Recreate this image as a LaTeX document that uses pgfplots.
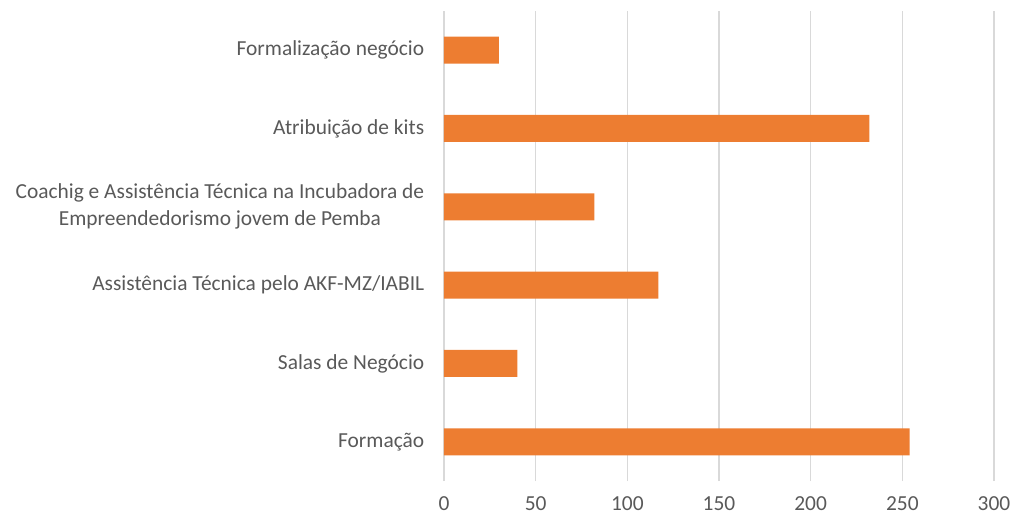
\documentclass[border=0pt]{standalone}
\usepackage{fontspec}
\setmainfont{Carlito}
\usepackage{pgfplots}
\pgfplotsset{compat=1.18}
\definecolor{barorange}{HTML}{ED7D31}
\definecolor{gridgray}{HTML}{D9D9D9}
\definecolor{textgray}{HTML}{595959}

\begin{document}
\begin{tikzpicture}[x=1bp,y=1bp]
\path[use as bounding box] (-444bp,-37bp) rectangle (571bp,481bp);
\begin{axis}[
    at={(0,0)}, anchor=south west,
    scale only axis,
    width=550bp, height=470bp,
    xbar, bar width=27bp,
    xmin=0, xmax=300,
    xtick={0,50,...,300},
    ymin=-0.5, ymax=5.5,
    ytick={0,...,5},
    yticklabels={Formação,Salas de Negócio,Assistência Técnica pelo AKF-MZ/IABIL,{Coachig e Assistência Técnica na Incubadora de\\Empreendedorismo jovem de Pemba},Atribuição de kits,Formalização negócio},
    yticklabel style={align=center, font=\fontsize{21.5}{27}\selectfont, text=textgray, xshift=-12bp},
    xticklabel style={font=\fontsize{21.5}{24}\selectfont, text=textgray, yshift=-12bp},
    /pgf/number format/assume math mode=true,
    xmajorgrids, major grid style={gridgray, line width=1.5bp},
    axis line style={draw=none},
    major tick style={draw=none},
]
\addplot[fill=barorange, draw=none] coordinates {
    (254,0) (40,1) (117,2) (82,3) (232,4) (30,5)
};
\end{axis}
\end{tikzpicture}
\end{document}
